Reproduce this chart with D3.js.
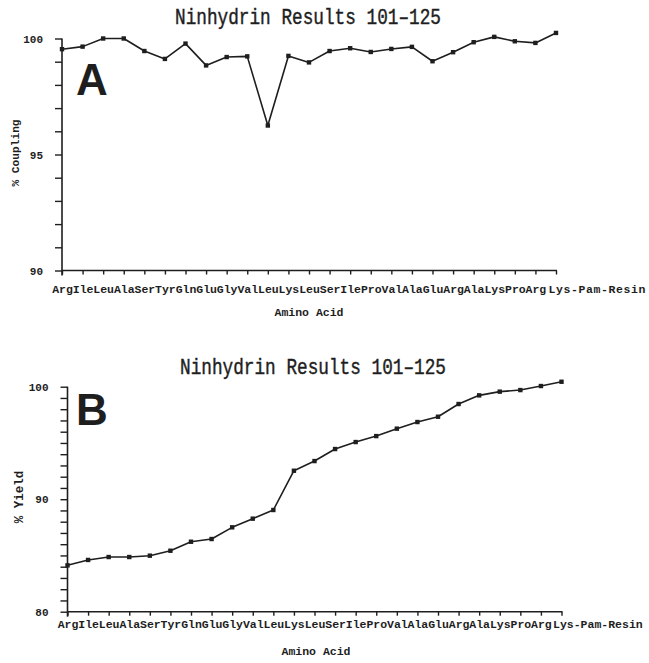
<!DOCTYPE html>
<html>
<head>
<meta charset="utf-8">
<script src="https://cdn.jsdelivr.net/npm/d3@7"></script>
<style>
  body { margin: 0; background: #fff; }
  svg { display: block; }
</style>
</head>
<body>
<svg id="chart" width="649" height="663"></svg>
<script>
// ---- data ----
const categories = ["Arg","Ile","Leu","Ala","Ser","Tyr","Gln","Glu","Gly","Val","Leu","Lys","Leu","Ser","Ile","Pro","Val","Ala","Glu","Arg","Ala","Lys","Pro","Arg","Lys-Pam-Resin"];
const couplingValues = [99.54, 99.65, 100.0, 100.0, 99.46, 99.12, 99.78, 98.84, 99.2, 99.23, 96.25, 99.25, 98.97, 99.46, 99.58, 99.42, 99.55, 99.64, 99.02, 99.41, 99.84, 100.07, 99.88, 99.81, 100.24];
const yieldValues = [84.12, 84.6, 84.86, 84.86, 84.98, 85.42, 86.22, 86.46, 87.5, 88.27, 89.04, 92.53, 93.39, 94.46, 95.08, 95.61, 96.27, 96.86, 97.33, 98.46, 99.23, 99.56, 99.7, 100.06, 100.44];
const couplingTicks = [90, 91, 92, 93, 94, 95, 96, 97, 98, 99, 100];
const couplingTickLabels = [90, 95, 100];
const yieldTicks = [80, 81, 82, 83, 84, 85, 86, 87, 88, 89, 90, 91, 92, 93, 94, 95, 96, 97, 98, 99, 100];
const yieldTickLabels = [80, 90, 100];
const titleText = "Ninhydrin Results 101\u2013125";

const svg = d3.select("#chart");
const ink = "#1e1e1e";
const mono = "'Liberation Mono', 'DejaVu Sans Mono', monospace";

function panel(cfg) {
  const g = svg.append("g");
  const x = d3.scalePoint().domain(d3.range(categories.length)).range([cfg.x0, cfg.x1]);
  const y = d3.scaleLinear().domain(cfg.domain).range([cfg.yBottom, cfg.yTop]);

  // title
  g.append("text")
    .attr("x", cfg.titleX).attr("y", cfg.titleY)
    .attr("text-anchor", "middle")
    .attr("font-family", mono).attr("font-size", 18)
    .attr("fill", ink).attr("stroke", ink).attr("stroke-width", 0.35)
    .attr("textLength", 266).attr("lengthAdjust", "spacingAndGlyphs")
    .attr("transform", `translate(0,${cfg.titleY}) scale(1,1.2) translate(0,${-cfg.titleY})`)
    .text(titleText);

  // big letter
  g.append("text")
    .attr("x", 76).attr("y", cfg.letterY)
    .attr("font-family", "'Liberation Sans', Arial, sans-serif")
    .attr("font-weight", "bold").attr("font-size", 44)
    .attr("fill", ink).text(cfg.letter);

  // y axis
  const yAxis = d3.axisLeft(y).tickValues(cfg.ticks).tickSize(7).tickSizeOuter(0).tickPadding(12)
    .tickFormat(d => cfg.tickLabels.includes(d) ? d : "");
  const ya = g.append("g").attr("transform", `translate(${cfg.x0},0)`).call(yAxis);
  ya.select(".domain").remove();
  ya.selectAll("line").attr("stroke", ink).attr("stroke-width", 1.4);
  ya.selectAll("text").attr("font-family", mono).attr("font-weight", "bold")
    .attr("font-size", 11).attr("fill", ink);
  g.append("line").attr("x1", cfg.x0).attr("x2", cfg.x0)
    .attr("y1", cfg.yTop).attr("y2", cfg.yBottom + 5)
    .attr("stroke", ink).attr("stroke-width", 1.6);

  // x axis
  const xAxis = d3.axisBottom(x).tickSize(4).tickSizeOuter(0).tickPadding(cfg.xPad)
    .tickFormat(i => categories[i]);
  const xa = g.append("g").attr("transform", `translate(0,${cfg.yBottom})`).call(xAxis);
  xa.select(".domain").remove();
  xa.selectAll("line").attr("stroke", ink).attr("stroke-width", 1.4);
  xa.selectAll("text").attr("font-family", mono).attr("font-weight", "bold")
    .attr("font-size", 11.5).attr("fill", ink);
  xa.selectAll(".tick").filter(i => i === categories.length - 1).select("text")
    .attr("text-anchor", "start").attr("x", cfg.lastDx).attr("letter-spacing", cfg.lastSpacing);
  g.append("line").attr("x1", cfg.x0).attr("x2", cfg.x1 + 1)
    .attr("y1", cfg.yBottom).attr("y2", cfg.yBottom)
    .attr("stroke", ink).attr("stroke-width", 1.6);

  // axis titles
  g.append("text")
    .attr("transform", `translate(${cfg.yTitleX},${cfg.yTitleY}) rotate(-90)`)
    .attr("text-anchor", "middle")
    .attr("font-family", mono).attr("font-weight", "bold").attr("font-size", cfg.yTitleSize)
    .attr("fill", ink).text(cfg.yTitle);
  g.append("text")
    .attr("x", cfg.xTitleX).attr("y", cfg.xTitleY)
    .attr("text-anchor", "middle")
    .attr("font-family", mono).attr("font-weight", "bold").attr("font-size", 11.5)
    .attr("fill", ink).text("Amino Acid");

  // line + markers
  const line = d3.line().x((d, i) => x(i)).y(d => y(d));
  g.append("path").datum(cfg.values)
    .attr("d", line).attr("fill", "none")
    .attr("stroke", ink).attr("stroke-width", 1.6).attr("stroke-linejoin", "round");
  g.selectAll("rect.pt").data(cfg.values).join("rect")
    .attr("class", "pt")
    .attr("x", (d, i) => x(i) - 2.2).attr("y", d => y(d) - 2.2)
    .attr("width", 4.4).attr("height", 4.4).attr("fill", ink);
}

panel({
  x0: 62, x1: 556, yTop: 38.5, yBottom: 270.5, domain: [90, 100],
  ticks: couplingTicks, tickLabels: couplingTickLabels, values: couplingValues,
  titleX: 308, titleY: 24, letter: "A", letterY: 95,
  xPad: 10, lastDx: -8, lastSpacing: 0.6,
  yTitle: "% Coupling", yTitleX: 19, yTitleY: 153, yTitleSize: 11.2,
  xTitleX: 309, xTitleY: 316
});

panel({
  x0: 67.5, x1: 561.5, yTop: 386.7, yBottom: 611.7, domain: [80, 100],
  ticks: yieldTicks, tickLabels: yieldTickLabels, values: yieldValues,
  titleX: 313, titleY: 374, letter: "B", letterY: 425,
  xPad: 4, lastDx: -9, lastSpacing: 0,
  yTitle: "% Yield", yTitleX: 23, yTitleY: 497, yTitleSize: 12.5,
  xTitleX: 316, xTitleY: 655
});
</script>
</body>
</html>
